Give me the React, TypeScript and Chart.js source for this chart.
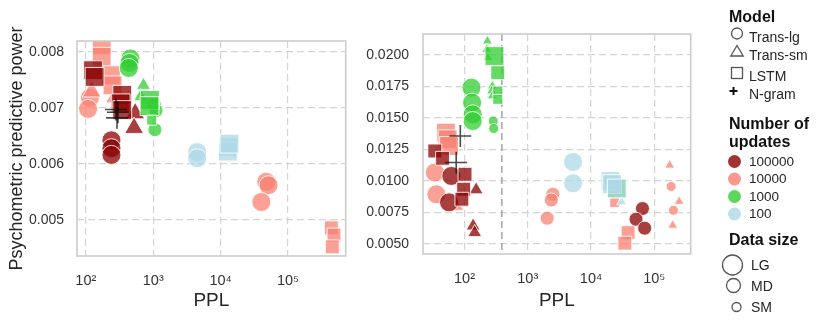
import React, { useEffect, useRef } from "react";
import { Chart, registerables } from "chart.js";
Chart.register(...registerables);

type Size = "LG" | "MD" | "SM";
type Pt = [number, number, Size]; // [PPL, psychometric predictive power, data size]

// ---------------- Left panel data ----------------
const L_TLG_100000: Pt[] = [[240, 0.00642, "LG"], [240, 0.00628, "LG"], [240, 0.00616, "LG"]];
const L_TLG_10000: Pt[] = [[115, 0.00718, "LG"], [108, 0.00698, "LG"], [47500, 0.00568, "LG"], [51300, 0.00562, "LG"], [40200, 0.00532, "LG"]];
const L_TLG_1000: Pt[] = [[459, 0.00788, "LG"], [445, 0.0078, "LG"], [434, 0.00771, "LG"], [1040, 0.00705, "MD"], [1100, 0.00695, "MD"], [1060, 0.00661, "MD"]];
const L_TLG_100: Pt[] = [[4490, 0.00621, "LG"], [4490, 0.0061, "LG"]];
const L_TSM_100000: Pt[] = [[540, 0.0069, "LG"], [520, 0.00664, "LG"]];
const L_TSM_10000: Pt[] = [[122, 0.00729, "LG"], [250, 0.00716, "MD"]];
const L_TSM_1000: Pt[] = [[717, 0.0074, "MD"], [650, 0.0072, "MD"]];
const L_LSTM_100000: Pt[] = [[128, 0.00767, "LG"], [135, 0.00755, "LG"], [347, 0.00723, "LG"], [329, 0.00708, "LG"], [347, 0.00696, "LG"]];
const L_LSTM_10000: Pt[] = [[172, 0.00812, "LG"], [172, 0.00791, "LG"], [235, 0.00758, "LG"], [249, 0.0074, "LG"], [438000, 0.00486, "MD"], [480000, 0.00473, "MD"], [454000, 0.00452, "MD"]];
const L_LSTM_1000: Pt[] = [[895, 0.00714, "LG"], [880, 0.00703, "LG"], [950, 0.00678, "SM"]];
const L_LSTM_100: Pt[] = [[13060, 0.0063, "LG"], [12800, 0.00622, "LG"], [13500, 0.00636, "LG"]];
const L_NGRAM: Pt[] = [[280, 0.00697, "LG"], [300, 0.00692, "LG"], [290, 0.00682, "LG"]];

// ---------------- Right panel data ----------------
const R_TLG_100000: Pt[] = [[62, 0.0104, "LG"], [57, 0.0083, "LG"], [65100, 0.00781, "MD"], [51500, 0.00696, "MD"], [70500, 0.00625, "MD"]];
const R_TLG_10000: Pt[] = [[34, 0.01067, "LG"], [36, 0.00894, "LG"], [2500, 0.00894, "MD"], [2360, 0.00849, "MD"], [2030, 0.00704, "MD"], [185000, 0.00956, "SM"], [201000, 0.00767, "SM"]];
const R_TLG_1000: Pt[] = [[129, 0.01741, "LG"], [132, 0.01622, "LG"], [135, 0.01529, "LG"], [135, 0.01476, "LG"], [285, 0.01476, "SM"], [290, 0.01416, "SM"]];
const R_TLG_100: Pt[] = [[5210, 0.01151, "LG"], [5210, 0.00982, "LG"]];
const R_TSM_100000: Pt[] = [[153, 0.0093, "MD"], [137, 0.00643, "MD"], [145, 0.0059, "MD"]];
const R_TSM_10000: Pt[] = [[81, 0.00789, "SM"], [175000, 0.01125, "SM"], [248000, 0.00837, "SM"], [196000, 0.00648, "SM"]];
const R_TSM_1000: Pt[] = [[231, 0.02111, "SM"], [225, 0.02045, "SM"], [235, 0.01979, "SM"], [276, 0.01754, "SM"], [268, 0.01714, "SM"], [276, 0.01675, "SM"]];
const R_TSM_100: Pt[] = [[30500, 0.00833, "SM"]];
const R_LSTM_100000: Pt[] = [[34, 0.01238, "MD"], [45, 0.0118, "MD"], [102, 0.01053, "MD"], [97, 0.00934, "MD"], [91, 0.00855, "MD"]];
const R_LSTM_10000: Pt[] = [[51, 0.01384, "LG"], [54, 0.01331, "LG"], [57, 0.01278, "LG"], [23700, 0.00829, "SM"], [38600, 0.0059, "MD"], [34300, 0.00506, "MD"]];
const R_LSTM_1000: Pt[] = [[298, 0.01992, "LG"], [336, 0.0186, "MD"], [336, 0.01714, "SM"], [336, 0.01648, "SM"], [25600, 0.0094, "LG"]];
const R_LSTM_100: Pt[] = [[20300, 0.01, "LG"], [21500, 0.00975, "LG"], [25600, 0.0094, "LG"]];
const R_NGRAM: Pt[] = [[86, 0.01357, "LG"], [74, 0.01146, "LG"]];

// ---------------- Axes ----------------
const X_TICKS = [100, 1000, 10000, 100000];
const X_TICK_LABELS = ["10²", "10³", "10⁴", "10⁵"];
const L_Y_TICKS = [0.005, 0.006, 0.007, 0.008];
const R_Y_TICKS = [0.005, 0.0075, 0.01, 0.0125, 0.015, 0.0175, 0.02];
const R_VLINE_PPL = 390;

const MODELS = ["Trans-lg", "Trans-sm", "LSTM", "N-gram"];
const UPDATES = ["100000", "10000", "1000", "100"];
const DATA_SIZES = ["LG", "MD", "SM"];

const UPDATE_RGB: Record<string, string> = {
  "100000": "139,0,0",
  "10000": "250,128,114",
  "1000": "50,205,50",
  "100": "173,216,230",
};
const MODEL_STYLE: Record<string, string> = { "Trans-lg": "circle", "Trans-sm": "triangle", LSTM: "rect", "N-gram": "cross" };
const SIZE_R: Record<string, number> = { LG: 9.5, MD: 7, SM: 5 };
const STYLE_SCALE: Record<string, number> = { circle: 1, triangle: 1.15, rect: 1.4, cross: 1.15 };

const FONT = "'Liberation Sans', Arial, Helvetica, sans-serif";

type Series = { model: string; updates: string; pts: Pt[] };

// listed bottom-most first; the last series is drawn on top
const LEFT_SERIES: Series[] = [
  { model: "Trans-lg", updates: "10000", pts: L_TLG_10000 },
  { model: "Trans-sm", updates: "10000", pts: L_TSM_10000 },
  { model: "LSTM", updates: "10000", pts: L_LSTM_10000 },
  { model: "Trans-lg", updates: "100000", pts: L_TLG_100000 },
  { model: "Trans-sm", updates: "100000", pts: L_TSM_100000 },
  { model: "LSTM", updates: "100000", pts: L_LSTM_100000 },
  { model: "Trans-lg", updates: "1000", pts: L_TLG_1000 },
  { model: "Trans-sm", updates: "1000", pts: L_TSM_1000 },
  { model: "LSTM", updates: "1000", pts: L_LSTM_1000 },
  { model: "Trans-lg", updates: "100", pts: L_TLG_100 },
  { model: "LSTM", updates: "100", pts: L_LSTM_100 },
  { model: "N-gram", updates: "", pts: L_NGRAM },
];

const RIGHT_SERIES: Series[] = [
  { model: "Trans-lg", updates: "10000", pts: R_TLG_10000 },
  { model: "Trans-sm", updates: "10000", pts: R_TSM_10000 },
  { model: "LSTM", updates: "10000", pts: R_LSTM_10000 },
  { model: "Trans-lg", updates: "100000", pts: R_TLG_100000 },
  { model: "Trans-sm", updates: "100000", pts: R_TSM_100000 },
  { model: "LSTM", updates: "100000", pts: R_LSTM_100000 },
  { model: "Trans-lg", updates: "1000", pts: R_TLG_1000 },
  { model: "Trans-sm", updates: "1000", pts: R_TSM_1000 },
  { model: "LSTM", updates: "1000", pts: R_LSTM_1000 },
  { model: "Trans-lg", updates: "100", pts: R_TLG_100 },
  { model: "Trans-sm", updates: "100", pts: R_TSM_100 },
  { model: "LSTM", updates: "100", pts: R_LSTM_100 },
  { model: "N-gram", updates: "", pts: R_NGRAM },
];

function toDatasets(series: Series[]) {
  // Chart.js paints the first dataset last (on top), so reverse the list
  return series
    .map((s) => {
      const style = MODEL_STYLE[s.model];
      const isCross = style === "cross";
      const rgb = UPDATE_RGB[s.updates] || "0,0,0";
      const radii = s.pts.map((p) => SIZE_R[p[2]] * STYLE_SCALE[style]);
      return {
        label: `${s.model} ${s.updates}`,
        data: s.pts.map((p) => ({ x: p[0], y: p[1] })),
        pointStyle: style,
        pointRadius: radii,
        pointHoverRadius: radii,
        backgroundColor: isCross ? "rgba(0,0,0,0)" : `rgba(${rgb},0.75)`,
        borderColor: isCross ? "rgba(15,15,15,0.75)" : "rgba(255,255,255,0.85)",
        borderWidth: isCross ? 1.6 : 1,
        clip: 0,
      };
    })
    .reverse();
}

const framePlugin = {
  id: "frame",
  beforeDatasetsDraw(chart: any, _args: any, opts: any) {
    if (opts && typeof opts.vline === "number") {
      const { ctx, chartArea } = chart;
      const x = chart.scales.x.getPixelForValue(opts.vline);
      ctx.save();
      ctx.strokeStyle = "#a6a6a6";
      ctx.lineWidth = 1.5;
      ctx.setLineDash([7, 4]);
      ctx.beginPath();
      ctx.moveTo(x, chartArea.top);
      ctx.lineTo(x, chartArea.bottom);
      ctx.stroke();
      ctx.restore();
    }
  },
  afterDraw(chart: any) {
    const { ctx, chartArea } = chart;
    ctx.save();
    ctx.strokeStyle = "#cccccc";
    ctx.lineWidth = 1.6;
    ctx.setLineDash([]);
    ctx.strokeRect(chartArea.left, chartArea.top, chartArea.right - chartArea.left, chartArea.bottom - chartArea.top);
    ctx.restore();
  },
};

type PanelCfg = {
  series: Series[];
  xMin: number;
  xMax: number;
  yMin: number;
  yMax: number;
  yTicks: number[];
  yDigits: number;
  yTitle: string | null;
  axisW: number;
  axisH: number;
  padR: number;
  padT: number;
  yTickPad: number;
  vline?: number;
};

function buildConfig(c: PanelCfg): any {
  return {
    type: "scatter",
    data: { datasets: toDatasets(c.series) },
    options: {
      responsive: false,
      animation: false,
      events: [],
      layout: { padding: { left: 0, right: c.padR, top: c.padT, bottom: 0 } },
      plugins: {
        legend: { display: false },
        tooltip: { enabled: false },
        frame: { vline: c.vline },
      },
      scales: {
        x: {
          type: "logarithmic",
          min: c.xMin,
          max: c.xMax,
          afterBuildTicks: (ax: any) => {
            ax.ticks = X_TICKS.map((v) => ({ value: v }));
          },
          afterFit: (ax: any) => {
            ax.height = c.axisH;
            ax.paddingLeft = 0;
            ax.paddingRight = 0;
          },
          ticks: {
            callback: (v: any) => {
              const i = X_TICKS.indexOf(Number(v));
              return i >= 0 ? X_TICK_LABELS[i] : "";
            },
            autoSkip: false,
            maxRotation: 0,
            padding: 16,
            color: "#333333",
            font: { family: FONT, size: 14.5 },
          },
          grid: { color: "#d4d4d4", lineWidth: 1.2, drawTicks: false },
          border: { display: false, dash: [7, 4] },
          title: {
            display: true,
            text: "PPL",
            color: "#262626",
            font: { family: FONT, size: 19 },
            padding: { top: 0, bottom: 13 },
          },
        },
        y: {
          type: "linear",
          min: c.yMin,
          max: c.yMax,
          afterBuildTicks: (ax: any) => {
            ax.ticks = c.yTicks.map((v) => ({ value: v }));
          },
          afterFit: (ax: any) => {
            ax.width = c.axisW;
            ax.paddingTop = 0;
            ax.paddingBottom = 0;
          },
          ticks: {
            callback: (v: any) => Number(v).toFixed(c.yDigits),
            autoSkip: false,
            padding: c.yTickPad,
            color: "#333333",
            font: { family: FONT, size: 14 },
          },
          grid: { color: "#d4d4d4", lineWidth: 1.2, drawTicks: false },
          border: { display: false, dash: [7, 4] },
          title: {
            display: !!c.yTitle,
            text: c.yTitle || "",
            color: "#262626",
            font: { family: FONT, size: 18 },
            padding: { top: 6, bottom: 0 },
          },
        },
      },
    },
    plugins: [framePlugin],
  };
}

const LEFT_CFG: PanelCfg = {
  series: LEFT_SERIES,
  xMin: 74,
  xMax: 716000,
  yMin: 0.004357,
  yMax: 0.008191,
  yTicks: L_Y_TICKS,
  yDigits: 3,
  yTitle: "Psychometric predictive power",
  axisW: 77,
  axisH: 69,
  padR: 9,
  padT: 41,
  yTickPad: 13,
};

const RIGHT_CFG: PanelCfg = {
  series: RIGHT_SERIES,
  xMin: 22.1,
  xMax: 376700,
  yMin: 0.0042,
  yMax: 0.02167,
  yTicks: R_Y_TICKS,
  yDigits: 4,
  yTitle: null,
  axisW: 63,
  axisH: 71,
  padR: 3,
  padT: 34,
  yTickPad: 14,
  vline: R_VLINE_PPL,
};

function Panel({ left, width, cfg }: { left: number; width: number; cfg: PanelCfg }) {
  const ref = useRef<HTMLCanvasElement | null>(null);
  useEffect(() => {
    if (!ref.current) return;
    const chart = new Chart(ref.current, buildConfig(cfg));
    return () => chart.destroy();
  }, [cfg]);
  return (
    <canvas
      ref={ref}
      width={width}
      height={325}
      style={{ position: "absolute", left, top: 0, width, height: 325 }}
    />
  );
}

function Txt({ x, y, text, bold, size }: { x: number; y: number; text: string; bold?: boolean; size: number }) {
  return (
    <div
      style={{
        position: "absolute",
        left: x,
        top: y - size * 0.6,
        height: size * 1.2,
        lineHeight: `${size * 1.2}px`,
        fontSize: size,
        fontWeight: bold ? 700 : 400,
        fontFamily: FONT,
        color: bold ? "#111111" : "#262626",
        whiteSpace: "nowrap",
      }}
    >
      {text}
    </div>
  );
}

const MODEL_ROW_Y = [35.5, 53.5, 74.5, 92.5];
const UPDATE_ROW_Y = [162, 179.5, 197, 214.5];
const SIZE_ROW_Y = [265.5, 286, 307.5];
const SIZE_ROW_R = [10, 7, 4.5];
const SIZE_ROW_X = [732.5, 733.5, 736.5];

function Legend() {
  const stroke = "#555555";
  return (
    <>
      <svg width={830} height={325} style={{ position: "absolute", left: 0, top: 0 }}>
        <circle cx={737} cy={33.5} r={5.5} fill="none" stroke={stroke} strokeWidth={1.3} />
        <polygon points="737,45.5 730.8,56 743.2,56" fill="none" stroke={stroke} strokeWidth={1.3} />
        <rect x={731.5} y={67.5} width={11} height={11} fill="none" stroke={stroke} strokeWidth={1.3} />
        <line x1={729.5} y1={91} x2={737.5} y2={91} stroke="#111" strokeWidth={2} />
        <line x1={733.5} y1={87} x2={733.5} y2={95} stroke="#111" strokeWidth={2} />
        {UPDATES.map((u, i) => (
          <circle key={u} cx={734.5} cy={UPDATE_ROW_Y[i] - 0.5} r={6.5} fill={`rgba(${UPDATE_RGB[u]},0.8)`} />
        ))}
        {DATA_SIZES.map((s, i) => (
          <circle key={s} cx={SIZE_ROW_X[i]} cy={SIZE_ROW_Y[i] - 0.5} r={SIZE_ROW_R[i]} fill="none" stroke={stroke} strokeWidth={1.3} />
        ))}
      </svg>
      <Txt x={729} y={16.5} text="Model" bold size={16} />
      {MODELS.map((m, i) => (
        <Txt key={m} x={749} y={MODEL_ROW_Y[i] + 1.5} text={m} size={14} />
      ))}
      <Txt x={729} y={124} text="Number of" bold size={16} />
      <Txt x={729} y={142} text="updates" bold size={16} />
      {UPDATES.map((u, i) => (
        <Txt key={u} x={749} y={UPDATE_ROW_Y[i]} text={u} size={13.5} />
      ))}
      <Txt x={729} y={240} text="Data size" bold size={16} />
      {DATA_SIZES.map((s, i) => (
        <Txt key={s} x={751} y={SIZE_ROW_Y[i]} text={s} size={14} />
      ))}
    </>
  );
}

export default function App() {
  return (
    <div style={{ position: "fixed", left: 0, top: 0, width: 830, height: 325, background: "#ffffff", overflow: "hidden" }}>
      <Panel left={0} width={360} cfg={LEFT_CFG} />
      <Panel left={360} width={345} cfg={RIGHT_CFG} />
      <Legend />
    </div>
  );
}
